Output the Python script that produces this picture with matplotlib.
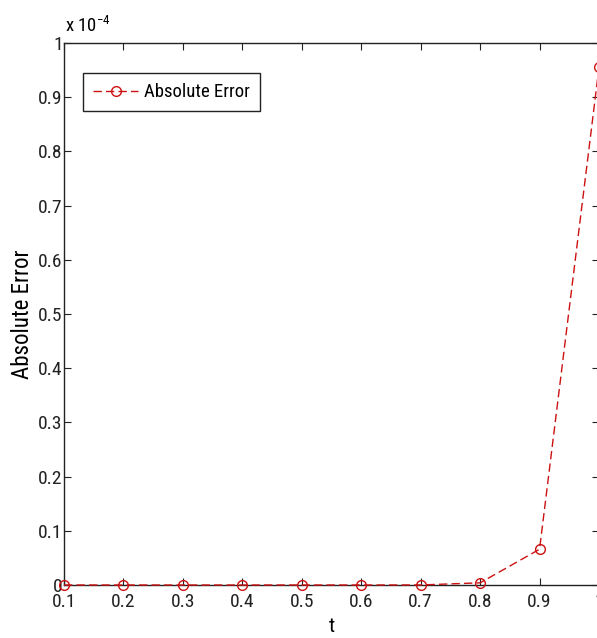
import matplotlib
matplotlib.use("Agg")
import matplotlib.pyplot as plt
from matplotlib.ticker import FuncFormatter
import numpy as np

t = [0.1, 0.2, 0.3, 0.4, 0.5, 0.6, 0.7, 0.8, 0.9, 1.0]
abs_error = [0.0, 0.0, 0.0, 0.0, 0.0, 0.0, 1e-8, 4e-7, 6.6e-6, 9.55e-5]
x_ticks = [0.1, 0.2, 0.3, 0.4, 0.5, 0.6, 0.7, 0.8, 0.9, 1.0]
y_ticks_scaled = [0, 0.1, 0.2, 0.3, 0.4, 0.5, 0.6, 0.7, 0.8, 0.9, 1]
scale = 1e-4

plt.rcParams['font.family'] = ['Roboto Condensed', 'PT Sans Narrow', 'DejaVu Sans']

W, H = 597, 638
fig = plt.figure(figsize=(W / 100, H / 100), dpi=100)
left, right, top, bottom = 64, 599, 43, 585
ax = fig.add_axes([left / W, (H - bottom) / H, (right - left) / W, (bottom - top) / H])

color = '#cc1111'
ax.plot(t, abs_error, linestyle='--', color=color, marker='o', markersize=7,
        markerfacecolor='none', markeredgecolor=color, linewidth=1.0,
        dashes=(6, 3), label='Absolute Error', zorder=3, clip_on=False)

ax.set_xlim(0.1, 1.0)
ax.set_ylim(0, 1e-4)
ax.set_xticks(x_ticks)
ax.set_xticklabels([f"{v:g}" for v in x_ticks])
ax.set_yticks([v * scale for v in y_ticks_scaled])
ax.yaxis.set_major_formatter(FuncFormatter(lambda v, p: f"{v / scale:.10g}" if abs(v) > 1e-12 else "0"))

ax.tick_params(direction='in', top=True, right=True, length=5, width=0.8,
               labelsize=14, colors='#222222')
ax.tick_params(axis='x', pad=6)
ax.tick_params(axis='y', pad=1)
for s in ax.spines.values():
    s.set_linewidth(1.0)
    s.set_color('#222222')

ax.set_xlabel('t', fontsize=15, labelpad=4)
ax.set_ylabel('Absolute Error', fontsize=16.5, labelpad=3)

fig.text(65 / W, 1 - 26 / H, r'x 10$^{\mathregular{-4}}$', fontsize=13.5, ha='left', va='center')

leg = ax.legend(loc='upper left', bbox_to_anchor=(0.035, 0.945), fancybox=False,
                framealpha=1, edgecolor='#222222', fontsize=13.5, handlelength=2.4,
                borderpad=0.55, handletextpad=0.3, borderaxespad=0)
leg.get_frame().set_linewidth(1.0)

fig.savefig('out.png', dpi=100)
